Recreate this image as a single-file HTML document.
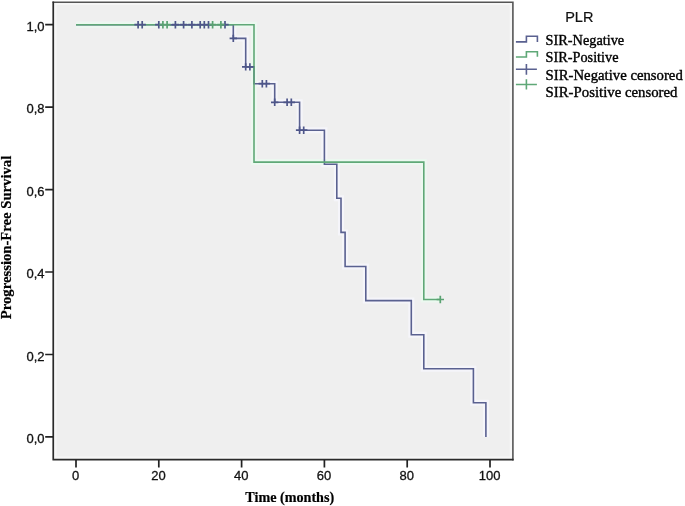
<!DOCTYPE html>
<html><head><meta charset="utf-8"><title>Kaplan-Meier</title>
<style>
html,body{margin:0;padding:0;background:#fff;}
svg{display:block;}
.ax{font-family:"Liberation Sans",Arial,sans-serif;font-size:13px;fill:#111;stroke:#111;stroke-width:0.3px;}
.lt{font-family:"Liberation Sans",Arial,sans-serif;font-size:14.5px;fill:#111;stroke:#111;stroke-width:0.2px;}
.ti{font-family:"Liberation Serif","Times New Roman",serif;font-size:14px;font-weight:bold;fill:#000;stroke:#000;stroke-width:0.2px;}
.lg{font-family:"Liberation Serif","Times New Roman",serif;font-size:13.6px;fill:#000;stroke:#000;stroke-width:0.35px;}
</style></head>
<body>
<svg width="685" height="506" viewBox="0 0 685 506">
<rect x="0" y="0" width="685" height="506" fill="#fff"/>
<rect x="53" y="2" width="460" height="458" fill="#f6f6f6"/>
<rect x="56.5" y="5" width="453.2" height="451.5" fill="#efefef"/>
<path d="M52.5,2.2H513.6M512.9,1.5V460.4" stroke="#555" stroke-width="1.6" fill="none"/>
<path d="M53.25,1.5V460.3M52.5,459.6H513.6" stroke="#2a2a2a" stroke-width="1.7" fill="none"/>
<path d="M45.2,24.7H53M45.2,107.1H53M45.2,189.6H53M45.2,272.0H53M45.2,354.5H53M45.2,436.9H53M76.0,460V467.5M158.8,460V467.5M241.6,460V467.5M324.4,460V467.5M407.2,460V467.5M490.0,460V467.5" stroke="#222" stroke-width="1.7" fill="none"/>
<text x="44.5" y="30.8" text-anchor="end" class="ax">1,0</text>
<text x="44.5" y="113.2" text-anchor="end" class="ax">0,8</text>
<text x="44.5" y="195.7" text-anchor="end" class="ax">0,6</text>
<text x="44.5" y="278.1" text-anchor="end" class="ax">0,4</text>
<text x="44.5" y="360.6" text-anchor="end" class="ax">0,2</text>
<text x="44.5" y="443.0" text-anchor="end" class="ax">0,0</text>
<text x="75.6" y="479.5" text-anchor="middle" class="ax">0</text>
<text x="158.4" y="479.5" text-anchor="middle" class="ax">20</text>
<text x="241.2" y="479.5" text-anchor="middle" class="ax">40</text>
<text x="324.0" y="479.5" text-anchor="middle" class="ax">60</text>
<text x="406.8" y="479.5" text-anchor="middle" class="ax">80</text>
<text x="489.6" y="479.5" text-anchor="middle" class="ax">100</text>
<text x="245.3" y="501.6" class="ti" textLength="88.9" lengthAdjust="spacingAndGlyphs">Time (months)</text>
<text transform="translate(11.3,319.2) rotate(-90)" x="0" y="0" class="ti" textLength="163.5" lengthAdjust="spacingAndGlyphs">Progression-Free Survival</text>
<path d="M76.0,24.7 H233.3 V38.4 H245.7 V66.9 H254.0 V83.7 H274.7 V102.3 H299.6 V130.2 H324.4 V164.3 H336.8 V198.3 H341.0 V232.4 H345.1 V266.5 H365.8 V300.6 H411.3 V334.7 H423.8 V368.7 H473.4 V402.8 H485.9 V436.9" stroke="#f5f5fa" stroke-width="6" fill="none"/>
<path d="M76.0,24.7 H254.0 V162.1 H423.8 V299.5 H440.3" stroke="#ecf8f0" stroke-width="6" fill="none"/>
<path d="M76.0,24.7 H233.3 V38.4 H245.7 V66.9 H254.0 V83.7 H274.7 V102.3 H299.6 V130.2 H324.4 V164.3 H336.8 V198.3 H341.0 V232.4 H345.1 V266.5 H365.8 V300.6 H411.3 V334.7 H423.8 V368.7 H473.4 V402.8 H485.9 V436.9" stroke="#5a6190" stroke-width="1.6" fill="none"/>
<path d="M76.0,24.7 H254.0 V162.1 H423.8 V299.5 H440.3" stroke="#5fa877" stroke-width="1.6" fill="none"/>
<path d="M170,24.7H211" stroke="#5a6190" stroke-width="1.6" fill="none"/>
<path d="M134.4,24.7h7.4M138.1,21.0v7.4M138.5,24.7h7.4M142.2,21.0v7.4M155.1,24.7h7.4M158.8,21.0v7.4M171.7,24.7h7.4M175.4,21.0v7.4M179.9,24.7h7.4M183.6,21.0v7.4M188.2,24.7h7.4M191.9,21.0v7.4M196.5,24.7h7.4M200.2,21.0v7.4M200.6,24.7h7.4M204.3,21.0v7.4M204.8,24.7h7.4M208.5,21.0v7.4M221.3,24.7h7.4M225.0,21.0v7.4M229.6,38.4h7.4M233.3,34.7v7.4M242.0,66.9h7.4M245.7,63.2v7.4M246.2,66.9h7.4M249.9,63.2v7.4M258.6,83.7h7.4M262.3,80.0v7.4M262.7,83.7h7.4M266.4,80.0v7.4M271.0,102.3h7.4M274.7,98.6v7.4M283.4,102.3h7.4M287.1,98.6v7.4M287.6,102.3h7.4M291.3,98.6v7.4M295.9,130.2h7.4M299.6,126.5v7.4M300.0,130.2h7.4M303.7,126.5v7.4" stroke="#4e5689" stroke-width="1.7" fill="none"/>
<path d="M159.2,24.7h7.4M162.9,21.0v7.4M163.4,24.7h7.4M167.1,21.0v7.4M208.9,24.7h7.4M212.6,21.0v7.4M217.2,24.7h7.4M220.9,21.0v7.4M436.6,299.5h7.4M440.3,295.8v7.4" stroke="#5aa272" stroke-width="1.7" fill="none"/>
<text x="565.2" y="21.8" class="lt">PLR</text>
<path d="M515.9,41.9H526.4V36.2H537.4V41.9" stroke="#5a6190" stroke-width="1.6" fill="none"/>
<path d="M515.9,57H526.4V51.7H537.4V56.7" stroke="#5fa877" stroke-width="1.6" fill="none"/>
<path d="M515.9,69.2H536.9M526.4,64V74.7" stroke="#5a6190" stroke-width="1.6" fill="none"/>
<path d="M515.9,84.5H536.9M526.4,79.3V89.6" stroke="#5fa877" stroke-width="1.6" fill="none"/>
<text x="545.6" y="45.2" class="lg" textLength="78.6" lengthAdjust="spacingAndGlyphs">SIR-Negative</text>
<text x="545.6" y="62.4" class="lg" textLength="72.9" lengthAdjust="spacingAndGlyphs">SIR-Positive</text>
<text x="545.6" y="79.6" class="lg" textLength="137.2" lengthAdjust="spacingAndGlyphs">SIR-Negative censored</text>
<text x="545.6" y="96.6" class="lg" textLength="131.9" lengthAdjust="spacingAndGlyphs">SIR-Positive censored</text>
</svg>
</body></html>
